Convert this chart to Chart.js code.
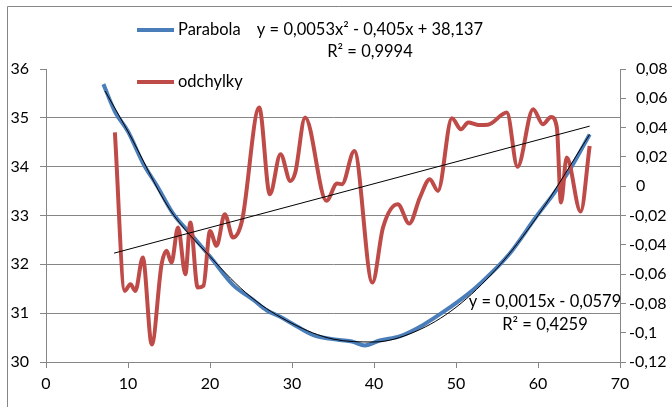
<!DOCTYPE html>
<html>
<head>
<meta charset="utf-8">
<script src="https://cdn.jsdelivr.net/npm/chart.js@4.4.0/dist/chart.umd.min.js"></script>
<style>
body{margin:0;background:#fff}
</style>
</head>
<body>
<canvas id="myChart" width="672" height="407"></canvas>
<script>
// measured curve (left axis)
var blueX = [7.0, 8.4, 10.0, 11.9, 13.5, 15.5, 17.5, 20.0, 22.8, 25.3, 26.9, 28.5, 30.0, 32.6, 35.8, 37.3, 38.9, 40.7, 43.2, 46.0, 48.5, 51.3, 52.9, 56.4, 59.8, 62.1, 64.1, 66.3]
var blueY = [35.69, 35.13, 34.72, 34.05, 33.62, 33.04, 32.65, 32.16, 31.58, 31.27, 31.06, 30.93, 30.79, 30.55, 30.45, 30.42, 30.34, 30.44, 30.53, 30.76, 31.03, 31.37, 31.6, 32.19, 32.98, 33.49, 34.0, 34.66]

// polynomial trendline
var polyX = [7.2, 10, 15, 20, 25, 30, 35, 40, 45, 50, 55, 60, 66.3]
var polyY = [35.55, 34.72, 33.15, 32.16, 31.33, 30.79, 30.47, 30.41, 30.62, 31.12, 31.92, 33.0, 34.66]

// odchylky (right axis)
var redX = [8.4, 9.6, 10.3, 10.9, 11.8, 12.9, 14.1, 14.7, 15.3, 16.1, 17.0, 17.6, 18.5, 19.2, 20.0, 20.8, 21.8, 22.8, 23.9, 26.0, 27.3, 28.6, 29.8, 30.4, 31.6, 34.2, 35.5, 36.1, 37.6, 39.8, 41.1, 42.9, 44.3, 45.6, 46.8, 47.8, 49.5, 50.6, 51.5, 52.7, 53.9, 56.2, 57.5, 59.4, 60.6, 61.6, 62.3, 62.8, 63.5, 65.2, 66.3]
var redY = [0.0367, -0.0715, -0.0669, -0.0715, -0.0487, -0.108, -0.0532, -0.0441, -0.0521, -0.0282, -0.0601, -0.0248, -0.0692, -0.068, -0.0305, -0.0407, -0.0191, -0.035, -0.0237, 0.0537, -0.0055, 0.0218, 0.0036, 0.0093, 0.0469, -0.010, 0.0018, 0.0014, 0.0241, -0.0658, -0.0282, -0.0123, -0.0255, -0.0077, 0.0048, -0.0032, 0.0464, 0.0389, 0.0435, 0.0418, 0.042, 0.0503, 0.0132, 0.0526, 0.0423, 0.0473, 0.040, -0.0111, 0.0196, -0.0173, 0.0275]

// linear trendline of odchylky
var linX = [8.3, 66.3]
var linY = [-0.0457, 0.041]

var eqParabola = ["y = 0,0053x² - 0,405x + 38,137", "R² = 0,9994"]
var eqOdchylky = ["y = 0,0015x - 0,0579", "R² = 0,4259"]

var FONT = "Lato, 'Open Sans', sans-serif"
var GRID = "#868686"

function pts(xs, ys){
  return xs.map(function(x, i){ return {x: x, y: ys[i]} })
}

var extras = {
  id: 'extras',
  beforeDraw: function(chart){
    var c = chart.ctx
    c.save()
    c.fillStyle = "#fff"
    c.fillRect(0, 0, chart.width, chart.height)
    c.strokeStyle = GRID
    c.lineWidth = 1
    c.beginPath()
    c.moveTo(7.5, chart.height)
    c.lineTo(7.5, 6.5)
    c.lineTo(chart.width, 6.5)
    c.stroke()
    c.restore()
  },
  afterDraw: function(chart){
    var c = chart.ctx
    c.save()
    // legend
    c.lineWidth = 4
    c.strokeStyle = "#4a7ebb"
    c.beginPath(); c.moveTo(137, 30); c.lineTo(174, 30); c.stroke()
    c.strokeStyle = "#be4b48"
    c.beginPath(); c.moveTo(137, 82); c.lineTo(174, 82); c.stroke()
    c.fillStyle = "#000"
    c.font = "16.5px " + FONT
    c.textBaseline = "middle"
    c.textAlign = "left"
    c.fillText("Parabola", 178, 30)
    c.fillText("odchylky", 178, 82)
    // trendline labels
    c.textAlign = "center"
    c.fillText(eqParabola[0], 370, 30)
    c.fillText(eqParabola[1], 370, 52)
    c.fillText(eqOdchylky[0], 545, 302)
    c.fillText(eqOdchylky[1], 545, 325)
    // right axis labels
    var s = chart.scales.y2
    c.font = "16px " + FONT
    c.textAlign = "left"
    s.ticks.forEach(function(t){
      var v = Math.round(t.value * 100) / 100
      var txt = String(v).replace(".", ",")
      var x = 636
      if (v < 0) x = 636 - c.measureText("-").width - 1
      c.fillText(txt, x, s.getPixelForValue(t.value))
    })
    c.restore()
  }
}

var myChart = document.getElementById("myChart").getContext('2d')

var chart = new Chart(myChart, {
  type: 'line',
  data: {
    datasets: [
      {
        label: "trend parabola",
        data: pts(polyX, polyY),
        yAxisID: 'y',
        borderColor: "#000",
        borderWidth: 1,
        pointRadius: 0,
        cubicInterpolationMode: 'monotone'
      },
      {
        label: "trend odchylky",
        data: pts(linX, linY),
        yAxisID: 'y2',
        borderColor: "#000",
        borderWidth: 1,
        pointRadius: 0
      },
      {
        label: "odchylky",
        data: pts(redX, redY),
        yAxisID: 'y2',
        borderColor: "#be4b48",
        borderWidth: 4,
        pointRadius: 0,
        cubicInterpolationMode: 'monotone'
      },
      {
        label: "Parabola",
        data: pts(blueX, blueY),
        yAxisID: 'y',
        borderColor: "#4a7ebb",
        borderWidth: 4,
        pointRadius: 0,
        cubicInterpolationMode: 'monotone'
      }
    ]
  },
  options: {
    responsive: false,
    animation: false,
    devicePixelRatio: 1,
    layout: { padding: { top: 69, left: 0, right: 0, bottom: 0 } },
    plugins: { legend: { display: false }, tooltip: { enabled: false } },
    scales: {
      x: {
        type: 'linear',
        position: 'bottom',
        min: 0,
        max: 70,
        afterFit: function(s){ s.height = 45 },
        ticks: { stepSize: 10, color: "#000", font: { family: FONT, size: 16 }, padding: 6, maxRotation: 0 },
        grid: { drawOnChartArea: false, tickLength: 6, color: GRID },
        border: { color: GRID }
      },
      y: {
        position: 'left',
        min: 30,
        max: 36,
        afterFit: function(s){ s.width = 46 },
        ticks: { stepSize: 1, color: "#000", font: { family: FONT, size: 16 }, padding: 11 },
        grid: {
          tickLength: 6,
          tickColor: GRID,
          color: function(ctx){ return ctx.tick && ctx.tick.value == 36 ? 'rgba(0,0,0,0)' : GRID }
        },
        border: { color: GRID }
      },
      y2: {
        position: 'right',
        min: -0.12,
        max: 0.08,
        afterFit: function(s){ s.width = 52 },
        ticks: { stepSize: 0.02, color: 'rgba(0,0,0,0)', font: { family: FONT, size: 16 } },
        grid: { drawOnChartArea: false, tickLength: 6, color: GRID },
        border: { color: GRID }
      }
    }
  },
  plugins: [extras]
})
</script>
</body>
</html>
